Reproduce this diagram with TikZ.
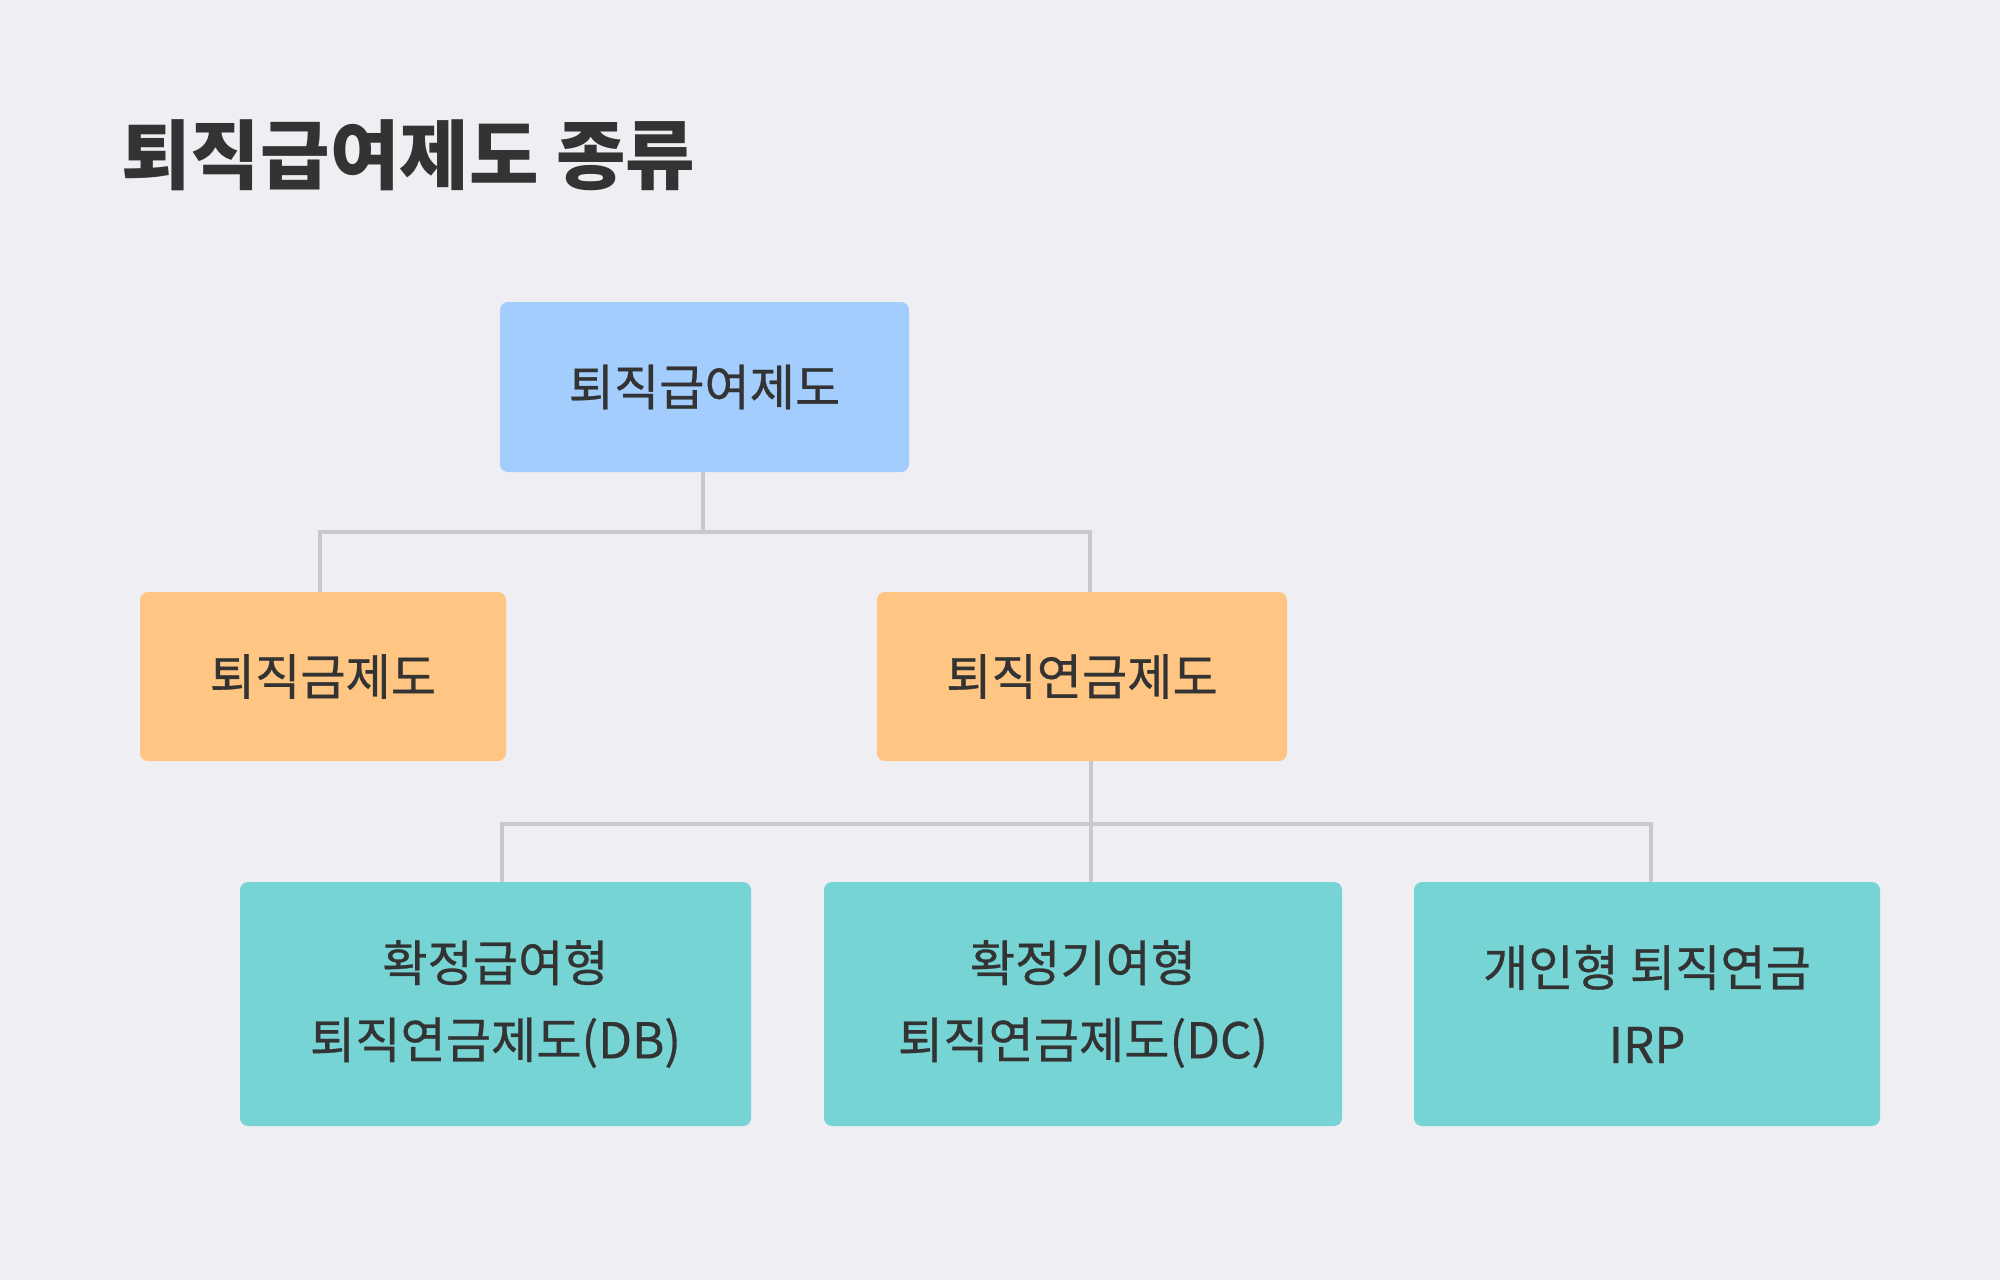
\documentclass[tikz,border=0pt]{standalone}
\usepackage{fontspec}
\setmainfont{Noto Sans CJK KR}
\newfontfamily\boxfont{Noto Sans CJK KR}[FakeBold=0.6]
\definecolor{bg}{HTML}{EEEEF3}
\definecolor{txt}{HTML}{333333}
\definecolor{linec}{HTML}{C8C8CD}
\definecolor{rootc}{HTML}{A2CDFD}
\definecolor{midc}{HTML}{FFC582}
\definecolor{leafc}{HTML}{77D4D4}
\begin{document}
\begin{tikzpicture}[x=0.5pt,y=-0.5pt,
  box/.style={rectangle, rounded corners=4pt, inner sep=0pt, text=txt,
    font=\boxfont\fontsize{24.6}{38.5}\selectfont, align=center},
  link/.style={draw=linec, line width=2.2pt}]
\fill[bg] (0,0) rectangle (2000,1280);
\useasboundingbox (0,0) rectangle (2000,1280);
\node[anchor=west, inner sep=0pt, text=txt, font=\fontsize{37.8}{44}\selectfont\bfseries] (title) at (121,155) {퇴직급여제도 종류};
\node[box, fill=rootc, minimum width=204.5pt, minimum height=85pt] (root) at (704.5,387) {퇴직급여제도};
\node[box, fill=midc, minimum width=183pt, minimum height=84.5pt] (ret) at (323,676.5) {퇴직금제도};
\node[box, fill=midc, minimum width=205pt, minimum height=84.5pt] (pen) at (1082,676.5) {퇴직연금제도};
\node[box, fill=leafc, minimum width=255.5pt, minimum height=122pt] (db) at (495.5,1004) {확정급여형\\퇴직연금제도(DB)};
\node[box, fill=leafc, minimum width=259pt, minimum height=122pt] (dc) at (1083,1004) {확정기여형\\퇴직연금제도(DC)};
\node[box, fill=leafc, minimum width=233pt, minimum height=122pt] (irp) at (1647,1004) {개인형 퇴직연금\\IRP};
\coordinate (j0) at (703,532);
\coordinate (a1) at (320,532);
\coordinate (a2) at (1090,532);
\coordinate (b1) at (502,824);
\coordinate (b2) at (1091,824);
\coordinate (b3) at (1651,824);
\draw[link] (root.south -| j0) -- (j0);
\draw[link] (ret.north -| a1) |- (a2) -- (pen.north -| a2);
\draw[link] (pen.south -| b2) -- (dc.north -| b2);
\draw[link] (db.north -| b1) |- (b3) -- (irp.north -| b3);
\end{tikzpicture}
\end{document}
